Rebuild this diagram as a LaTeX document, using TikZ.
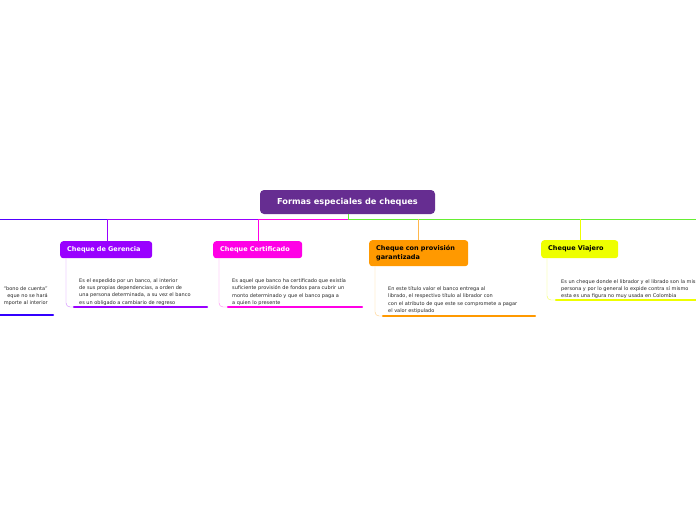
\documentclass[tikz,border=0pt]{standalone}
\usepackage{fontspec}
\setmainfont{DejaVu Sans}
\begin{document}
\begin{tikzpicture}[x=1pt,y=-1pt,
  topic/.style={rounded corners=3pt,anchor=north west,inner xsep=7pt,inner ysep=0pt,align=left,font=\fontsize{6.5}{8.5}\selectfont\bfseries},
  desc/.style={anchor=north west,inner sep=0pt,align=left,font=\fontsize{5}{7.4}\selectfont,text=black!85},
  ul/.style={line width=2.2pt,line cap=round},
  br/.style={line width=0.4pt,rounded corners=4pt}]
\useasboundingbox (0,0) rectangle (696,520);
\definecolor{cmain}{HTML}{662D91}
\definecolor{cger}{HTML}{9900FF}
\definecolor{ccert}{HTML}{FF00E6}
\definecolor{cprov}{HTML}{FF9900}
\definecolor{cvia}{HTML}{EEFF00}
\definecolor{cleft}{HTML}{3300FF}
\definecolor{cgreen}{HTML}{66EE33}
% main
\node[fill=cmain,text=white,rounded corners=4pt,minimum width=175pt,minimum height=24pt,inner sep=0pt,font=\fontsize{8.2}{10}\selectfont\bfseries] (main) at (347.5,202) {Formas especiales de cheques};
\coordinate (mb) at (348,219);
\draw[cgreen,line width=0.5pt] (main.south -| mb) -- (mb);
% trunk
\coordinate (l0) at (0,219); \coordinate (lg) at (107,219); \coordinate (lc) at (258,219);
\coordinate (lp) at (418,219); \coordinate (lv) at (580,219); \coordinate (r0) at (696,219);
\draw[cleft!70!cger,line width=0.5pt] (l0) -- (lg);
\draw[cger,line width=0.5pt] (lg) -- (lc);
\draw[ccert,line width=0.5pt] (lc) -- (mb);
\draw[cgreen,line width=0.5pt] (mb) -- (r0);
% topics
\node[topic,fill=cger,text=white,text width=78pt,minimum height=17pt] (ger) at (60,241) {Cheque de Gerencia};
\node[topic,fill=ccert,text=white,text width=75pt,minimum height=17pt] (cert) at (213,241) {Cheque Certificado};
\node[topic,fill=cprov,text=black,text width=85pt,minimum height=26pt] (prov) at (369,240) {Cheque con provisión\\garantizada};
\node[topic,fill=cvia,text=black,text width=63pt,minimum height=18pt] (via) at (541,240) {Cheque Viajero};
\draw[cger,line width=0.5pt] (lg) -- (ger.north -| lg);
\draw[ccert,line width=0.5pt] (lc) -- (cert.north -| lc);
\draw[cprov!70,line width=0.5pt] (lp) -- (prov.north -| lp);
\draw[cvia,line width=0.5pt] (lv) -- (via.north -| lv);
% descriptions
\node[desc] (dg) at (79,278) {Es el expedido por un banco, al interior\\de sus propias dependencias, a orden de\\una persona determinada, a su vez el banco\\es un obligado a cambiario de regreso};
\node[desc] (dc) at (232,278) {Es aquel que banco ha certificado que existía\\suficiente provisión de fondos para cubrir un\\monto determinado y que el banco paga a\\a quien lo presente};
\node[desc] (dp) at (388,286) {En este título valor el banco entrega al\\librado, el respectivo título al librador con\\con el atributo de que este se compromete a pagar\\el valor estipulado};
\node[desc] (dv) at (561,279) {Es un cheque donde el librador y el librado son la misma\\persona y por lo general lo expide contra sí mismo\\esta es una figura no muy usada en Colombia};
\node[desc,anchor=north east,align=right] (dl) at (48,286) {“bono de cuenta”\\eque no se hará\\mporte al interior};
% underlines and brackets
\coordinate (ug1) at (74,307); \coordinate (ug2) at (207,307);
\draw[ul,cger] (ug1) -- (ug2);
\draw[br,cger!50] (ger.south west -| 66,0) -- (66,307) -- (ug1);
\coordinate (uc1) at (228,307); \coordinate (uc2) at (362,307);
\draw[ul,ccert] (uc1) -- (uc2);
\draw[br,ccert!50] (cert.south west -| 219,0) -- (219,307) -- (uc1);
\coordinate (up1) at (383,316); \coordinate (up2) at (535,316);
\draw[ul,cprov] (up1) -- (up2);
\draw[br,cprov!50] (prov.south west -| 375,0) -- (375,316) -- (up1);
\coordinate (uv1) at (556,300); \coordinate (uv2) at (700,300);
\draw[ul,cvia] (uv1) -- (uv2);
\draw[br,cvia!70] (via.south west -| 547,0) -- (547,300) -- (uv1);
\coordinate (ul1) at (-5,315); \coordinate (ul2) at (53,315);
\draw[ul,cleft] (ul1) -- (ul2);
\end{tikzpicture}
\end{document}
